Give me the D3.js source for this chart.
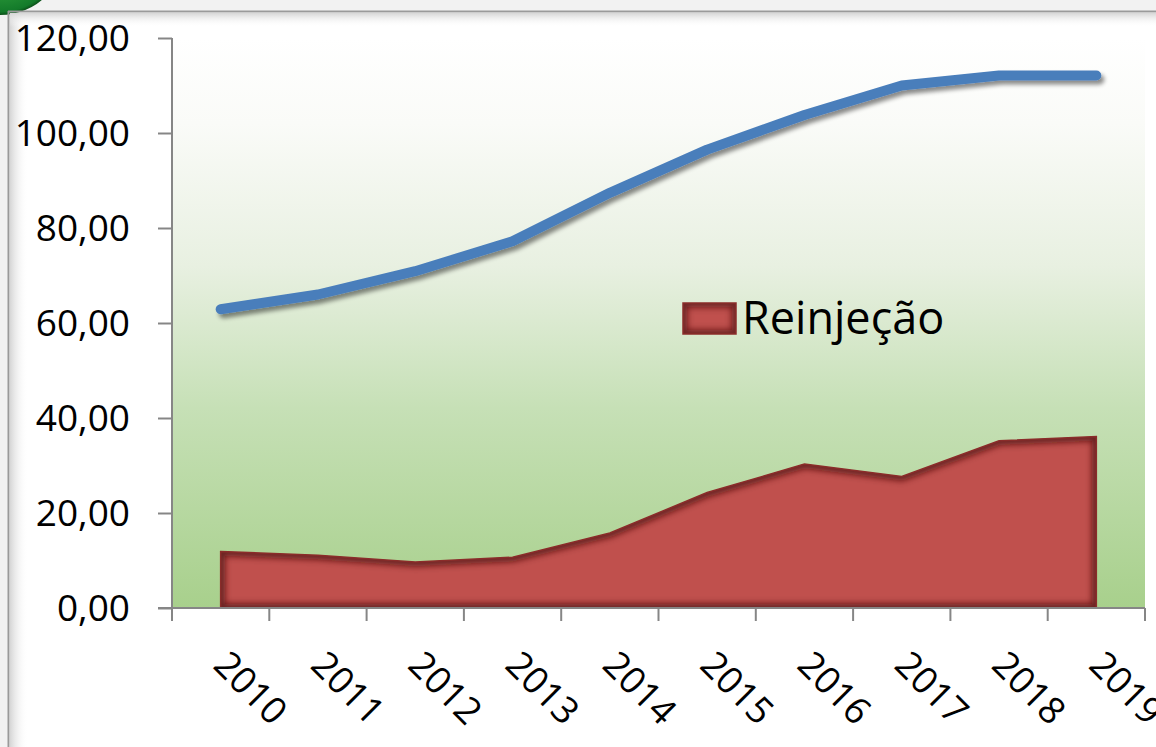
<!DOCTYPE html>
<html>
<head>
<meta charset="utf-8">
<script src="https://cdn.jsdelivr.net/npm/d3@7"></script>
<style>
  html, body { margin: 0; padding: 0; background: #ffffff; }
  svg { display: block; }
  text { font-family: "Open Sans", "Noto Sans", sans-serif; fill: #000; }
</style>
</head>
<body>
<script>
// ---- data ----
const years = ["2010","2011","2012","2013","2014","2015","2016","2017","2018","2019"];
const totalSeries = [62.9, 66.0, 70.9, 77.2, 87.4, 96.5, 103.8, 110.0, 112.1, 112.1];
const reinjecao = [11.9, 11.1, 9.7, 10.7, 15.8, 24.3, 30.3, 27.7, 35.2, 36.1];
const yTicks = [0, 20, 40, 60, 80, 100, 120];
const legendLabel = "Reinjeção";

const W = 1156, H = 747;
const plot = { left: 172, top: 38, right: 1145, bottom: 608 };

const svg = d3.select("body").append("svg").attr("width", W).attr("height", H);
const defs = svg.append("defs");

// background gradient for plot area
const bg = defs.append("linearGradient").attr("id", "bg").attr("x1", 0).attr("y1", 0).attr("x2", 0).attr("y2", 1);
[[0, "#ffffff"], [0.15, "#fafbf8"], [0.4, "#e8f0e1"], [0.65, "#c6e0b6"], [1, "#a8d08c"]]
  .forEach(([o, c]) => bg.append("stop").attr("offset", o).attr("stop-color", c));

// frame inner shadows
const shL = defs.append("linearGradient").attr("id", "shL").attr("x1", 0).attr("y1", 0).attr("x2", 1).attr("y2", 0);
shL.append("stop").attr("offset", 0).attr("stop-color", "#d6d6d6");
shL.append("stop").attr("offset", 1).attr("stop-color", "#ffffff").attr("stop-opacity", 0);
const shT = defs.append("linearGradient").attr("id", "shT").attr("x1", 0).attr("y1", 0).attr("x2", 0).attr("y2", 1);
shT.append("stop").attr("offset", 0).attr("stop-color", "#d6d6d6");
shT.append("stop").attr("offset", 1).attr("stop-color", "#ffffff").attr("stop-opacity", 0);

const blob = defs.append("radialGradient").attr("id", "blob").attr("cx", 0.5).attr("cy", 0.5).attr("r", 0.5);
blob.append("stop").attr("offset", 0.6).attr("stop-color", "#2c9a3a");
blob.append("stop").attr("offset", 0.95).attr("stop-color", "#137a2a");
blob.append("stop").attr("offset", 1).attr("stop-color", "#0b4f18");

// drop shadow for line
const ds = defs.append("filter").attr("id", "ds").attr("x", "-5%").attr("y", "-20%").attr("width", "110%").attr("height", "140%");
ds.append("feDropShadow").attr("dx", 3).attr("dy", 4).attr("stdDeviation", 2.2)
  .attr("flood-color", "#000").attr("flood-opacity", 0.45);

// blur used for inner edge shading
const bl = defs.append("filter").attr("id", "bl").attr("x", "-10%").attr("y", "-10%").attr("width", "120%").attr("height", "120%");
bl.append("feGaussianBlur").attr("stdDeviation", 3);

// ---- frame / decoration ----
svg.append("rect").attr("x", 0).attr("y", 0).attr("width", W).attr("height", 11).attr("fill", "#f2f2f2");
svg.append("rect").attr("x", 0).attr("y", 0).attr("width", 8).attr("height", H).attr("fill", "#f2f2f2");
svg.append("circle").attr("cx", 0).attr("cy", -51).attr("r", 66).attr("fill", "url(#blob)");
svg.append("rect").attr("x", 10).attr("y", 13).attr("width", 18).attr("height", H - 13).attr("fill", "url(#shL)");
svg.append("rect").attr("x", 10).attr("y", 13).attr("width", W - 10).attr("height", 14).attr("fill", "url(#shT)");
svg.append("line").attr("x1", 8.5).attr("x2", 8.5).attr("y1", 11).attr("y2", H).attr("stroke", "#9a9a9a").attr("stroke-width", 2);
svg.append("line").attr("x1", 8).attr("x2", W).attr("y1", 11.5).attr("y2", 11.5).attr("stroke", "#9a9a9a").attr("stroke-width", 2);

// ---- scales ----
const x = d3.scaleBand().domain(years).range([plot.left, plot.right]).padding(0);
const xc = d => x(d) + x.bandwidth() / 2;
const y = d3.scaleLinear().domain([0, 120]).range([plot.bottom, plot.top]);

// plot background
svg.append("rect").attr("x", plot.left).attr("y", plot.top)
  .attr("width", plot.right - plot.left).attr("height", plot.bottom - plot.top)
  .attr("fill", "url(#bg)");

// ---- area with inner edge shading ----
const area = d3.area().x((d, i) => xc(years[i])).y0(y(0)).y1(d => y(d));
const areaD = area(reinjecao);
defs.append("clipPath").attr("id", "areaClip").append("path").attr("d", areaD);
svg.append("path").attr("d", areaD).attr("fill", "#c0504d");
svg.append("g").attr("clip-path", "url(#areaClip)")
  .append("path").attr("d", areaD)
  .attr("fill", "none").attr("stroke", "#4a0c0a").attr("stroke-width", 9)
  .attr("stroke-opacity", 0.75).attr("filter", "url(#bl)");
svg.append("path").attr("d", areaD).attr("fill", "none")
  .attr("stroke", "#8a2c2a").attr("stroke-width", 1.5);

// ---- line ----
const line = d3.line().x((d, i) => xc(years[i])).y(d => y(d));
svg.append("path").datum(totalSeries)
  .attr("d", line)
  .attr("fill", "none")
  .attr("stroke", "#4a7ebb").attr("stroke-width", 10)
  .attr("stroke-linecap", "round").attr("stroke-linejoin", "round")
  .attr("filter", "url(#ds)");

// ---- axes ----
const loc = d3.formatLocale({ decimal: ",", thousands: ".", grouping: [3], currency: ["", ""] });
const fmt = loc.format(".2f");

const yAxis = d3.axisLeft(y).tickValues(yTicks).tickFormat(fmt).tickSize(14).tickPadding(28);
const gy = svg.append("g").attr("transform", `translate(${plot.left},0)`).call(yAxis);
gy.select(".domain").attr("stroke", "#868686").attr("stroke-width", 2).attr("d", `M0,${plot.top}V${plot.bottom}`);
gy.selectAll(".tick line").attr("stroke", "#868686").attr("stroke-width", 2);
gy.selectAll(".tick text").style("font-family", "'Open Sans', sans-serif").style("font-size", "37px")
  .attr("fill", "#000").attr("dy", "0.35em");

// x axis: ticks at band boundaries
const xAxisG = svg.append("g");
xAxisG.append("line").attr("x1", plot.left - 14).attr("x2", plot.right)
  .attr("y1", plot.bottom).attr("y2", plot.bottom).attr("stroke", "#868686").attr("stroke-width", 2);
const bounds = years.map(d => x(d)).concat([x(years[years.length - 1]) + x.bandwidth()]);
xAxisG.selectAll("line.tk").data(bounds).enter().append("line").attr("class", "tk")
  .attr("x1", d => d).attr("x2", d => d)
  .attr("y1", plot.bottom).attr("y2", plot.bottom + 13)
  .attr("stroke", "#868686").attr("stroke-width", 2);
xAxisG.selectAll("text").data(years).enter().append("text")
  .attr("transform", d => `translate(${xc(d) - 9},${plot.bottom + 59}) rotate(45)`)
  .attr("text-anchor", "start")
  .style("font-size", "37px")
  .text(d => d);

// ---- legend ----
const lg = svg.append("g");
defs.append("clipPath").attr("id", "swClip").append("rect").attr("x", 683).attr("y", 303).attr("width", 53).attr("height", 31);
lg.append("rect").attr("x", 683).attr("y", 303).attr("width", 53).attr("height", 31).attr("fill", "#c0504d");
lg.append("g").attr("clip-path", "url(#swClip)").append("rect")
  .attr("x", 683).attr("y", 303).attr("width", 53).attr("height", 31)
  .attr("fill", "none").attr("stroke", "#4a0c0a").attr("stroke-width", 9)
  .attr("stroke-opacity", 0.7).attr("filter", "url(#bl)");
lg.append("rect").attr("x", 683).attr("y", 303).attr("width", 53).attr("height", 31)
  .attr("fill", "none").attr("stroke", "#8a2c2a").attr("stroke-width", 1.5);
lg.append("text").attr("x", 742).attr("y", 334).style("font-size", "45px").text(legendLabel);
</script>
</body>
</html>
